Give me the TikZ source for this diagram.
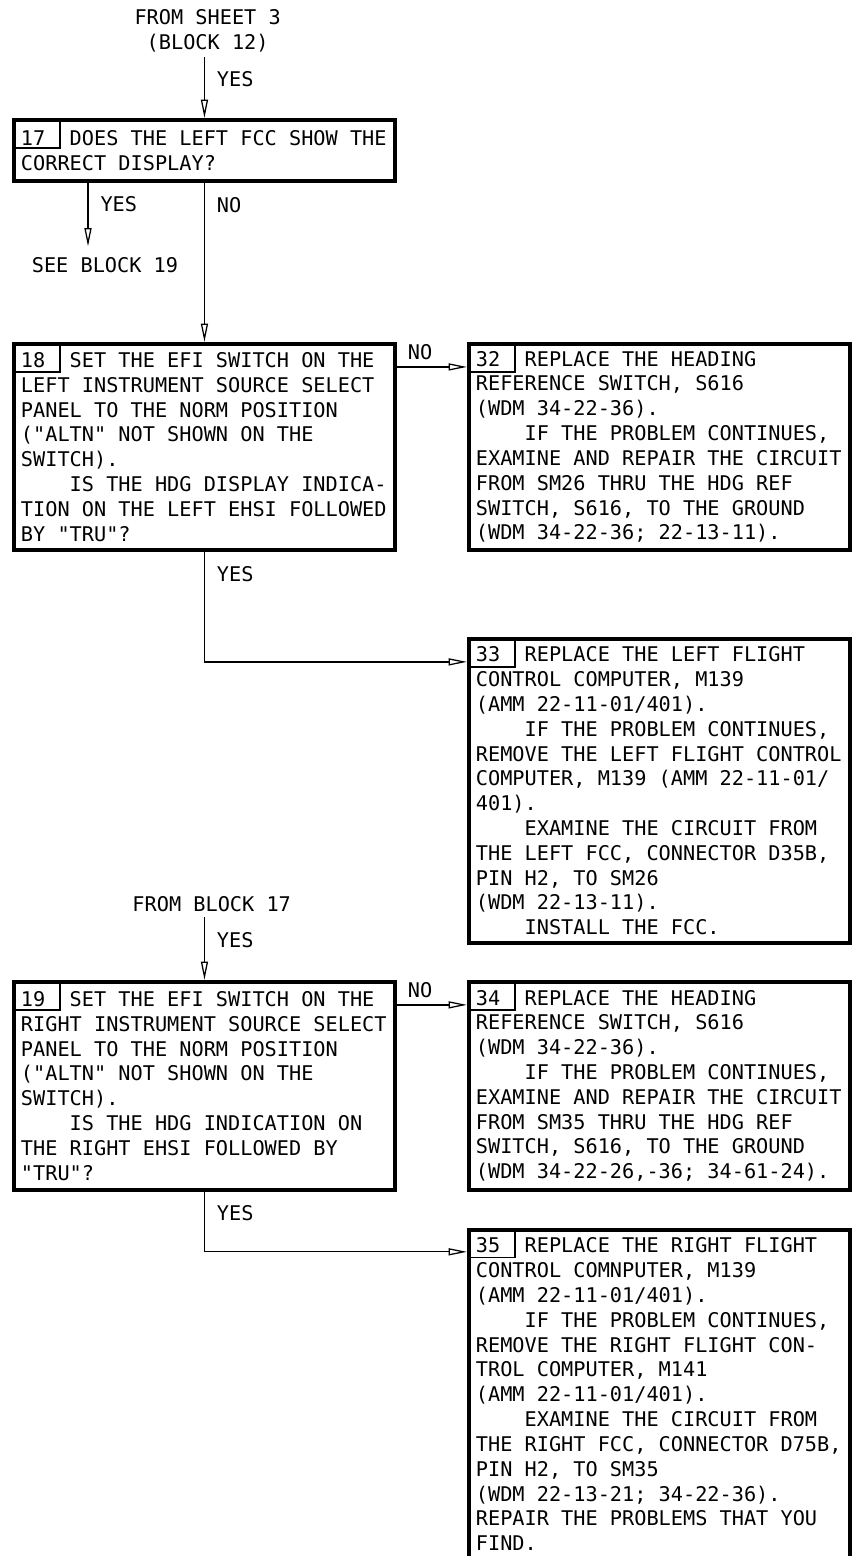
\documentclass[tikz,border=0pt]{standalone}
\usepackage{fontspec}
\setmonofont{DejaVu Sans Mono}
\usepackage{tikz}
\usetikzlibrary{positioning}
\usetikzlibrary{calc}
\usetikzlibrary{arrows.meta}

\newcommand{\chartfont}{\ttfamily\fontsize{14.4}{17.65}\selectfont}
\newcommand{\indnt}{\phantom{0000}}

\begin{document}
\begin{tikzpicture}[
  every node/.style={font=\chartfont},
  box/.style={draw, line width=2.8pt, text width=9.175cm, inner xsep=0.175cm, inner ysep=0.1cm, align=flush left},
  numcell/.style={draw, line width=0.9pt, minimum width=1.15cm, minimum height=0.7cm, inner sep=0pt, outer sep=0pt, anchor=north west},
  note/.style={font=\chartfont},
  flow/.style={-{Triangle[open,length=13pt,width=5pt]}, line width=0.9pt}
]
\path[use as bounding box, fill=white] (0,0) rectangle (21.45,-38.9);

% ---------- Block 17 ----------
\node[box, minimum height=1.525cm, anchor=north west] (b17) at (0.3,-2.95)
  {17\ \ DOES THE LEFT FCC SHOW THE\\CORRECT DISPLAY?};
\node[note, align=center] (src17) [above=1.525cm of b17, xshift=0.08cm] {FROM SHEET 3\\(BLOCK 12)};
\node[note] (see19) at (2.625,-6.625) {SEE BLOCK 19};
\coordinate (yes17) at ([shift={(-0.425,0.15)}]see19.north);

% ---------- Blocks 18 / 32 / 33 ----------
\node[box, minimum height=5.15cm] (b18) [below=3.975cm of b17] {%
18\ \ SET THE EFI SWITCH ON THE\\
LEFT INSTRUMENT SOURCE SELECT\\
PANEL TO THE NORM POSITION\\
("ALTN" NOT SHOWN ON THE\\
SWITCH).\\
\indnt IS THE HDG DISPLAY INDICA-\\
TION ON THE LEFT EHSI FOLLOWED\\
BY "TRU"?};

\node[box, minimum height=5.15cm] (b32) [right=1.75cm of b18] {%
32\ \ REPLACE THE HEADING\\
REFERENCE SWITCH, S616\\
(WDM 34-22-36).\\
\indnt IF THE PROBLEM CONTINUES,\\
EXAMINE AND REPAIR THE CIRCUIT\\
FROM SM26 THRU THE HDG REF\\
SWITCH, S616, TO THE GROUND\\
(WDM 34-22-36; 22-13-11).};

\node[box, minimum height=7.6cm] (b33) [below=2.125cm of b32] {%
33\ \ REPLACE THE LEFT FLIGHT\\
CONTROL COMPUTER, M139\\
(AMM 22-11-01/401).\\
\indnt IF THE PROBLEM CONTINUES,\\
REMOVE THE LEFT FLIGHT CONTROL\\
COMPUTER, M139 (AMM 22-11-01/\\
401).\\
\indnt EXAMINE THE CIRCUIT FROM\\
THE LEFT FCC, CONNECTOR D35B,\\
PIN H2, TO SM26\\
(WDM 22-13-11).\\
\indnt INSTALL THE FCC.};

% ---------- Blocks 19 / 34 / 35 ----------
\node[box, minimum height=5.2cm] (b19) [below=10.7cm of b18] {%
19\ \ SET THE EFI SWITCH ON THE\\
RIGHT INSTRUMENT SOURCE SELECT\\
PANEL TO THE NORM POSITION\\
("ALTN" NOT SHOWN ON THE\\
SWITCH).\\
\indnt IS THE HDG INDICATION ON\\
THE RIGHT EHSI FOLLOWED BY\\
"TRU"?};
\node[note] (src19) [above=1.57cm of b19, xshift=0.18cm] {FROM BLOCK 17};

\node[box, minimum height=5.2cm] (b34) [right=1.75cm of b19] {%
34\ \ REPLACE THE HEADING\\
REFERENCE SWITCH, S616\\
(WDM 34-22-36).\\
\indnt IF THE PROBLEM CONTINUES,\\
EXAMINE AND REPAIR THE CIRCUIT\\
FROM SM35 THRU THE HDG REF\\
SWITCH, S616, TO THE GROUND\\
(WDM 34-22-26,-36; 34-61-24).};

% runs off the sheet at the bottom
\node[box, minimum height=8.225cm] (b35) [below=0.9cm of b34] {%
35\ \ REPLACE THE RIGHT FLIGHT\\
CONTROL COMNPUTER, M139\\
(AMM 22-11-01/401).\\
\indnt IF THE PROBLEM CONTINUES,\\
REMOVE THE RIGHT FLIGHT CON-\\
TROL COMPUTER, M141\\
(AMM 22-11-01/401).\\
\indnt EXAMINE THE CIRCUIT FROM\\
THE RIGHT FCC, CONNECTOR D75B,\\
PIN H2, TO SM35\\
(WDM 22-13-21; 34-22-36).\\
REPAIR THE PROBLEMS THAT YOU\\
FIND.};

% ---------- Block number cells ----------
\node[numcell] (b17num) at ([shift={(0.05,-0.05)}]b17.north west) {};
\node[numcell] (b18num) at ([shift={(0.05,-0.05)}]b18.north west) {};
\node[numcell] (b32num) at ([shift={(0.05,-0.05)}]b32.north west) {};
\node[numcell] (b33num) at ([shift={(0.05,-0.05)}]b33.north west) {};
\node[numcell] (b19num) at ([shift={(0.05,-0.05)}]b19.north west) {};
\node[numcell] (b34num) at ([shift={(0.05,-0.05)}]b34.north west) {};
\node[numcell] (b35num) at ([shift={(0.05,-0.05)}]b35.north west) {};

% ---------- Connectors ----------
\draw[flow] (src17.south -| b17.north) -- node[note, right=0.18cm, pos=0.36] {YES} (b17.north);
\draw[flow] (yes17 |- b17.south) -- node[note, right=0.18cm, pos=0.33] {YES} (yes17);
\draw[flow] (b17) -- node[note, right=0.18cm, pos=0.14] {NO} (b18);
\draw[flow] ([yshift=-0.625cm]b18.north east) -- node[note, above=0.05cm, pos=0.33] {NO} ([yshift=-0.625cm]b32.north west);
\draw[flow] (b18) |- node[note, right=0.18cm, pos=0.1] {YES} ([yshift=-0.625cm]b33.north west);

\draw[flow] (src19.south -| b19.north) -- node[note, right=0.18cm, pos=0.37] {YES} (b19.north);
\draw[flow] ([yshift=-0.625cm]b19.north east) -- node[note, above=0.05cm, pos=0.33] {NO} ([yshift=-0.625cm]b34.north west);
\draw[flow] (b19) |- node[note, right=0.18cm, pos=0.175] {YES} ([yshift=-0.6cm]b35.north west);

\end{tikzpicture}
\end{document}
